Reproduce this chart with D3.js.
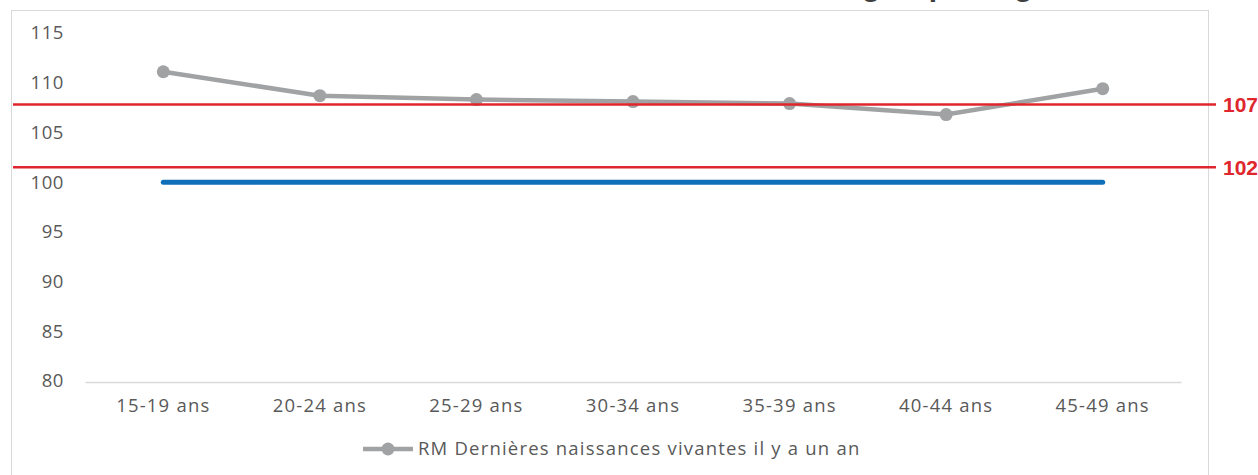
<!DOCTYPE html>
<html>
<head>
<meta charset="utf-8">
<script src="https://cdn.jsdelivr.net/npm/d3@7"></script>
<style>
  body { margin: 0; background: #fff; }
  svg { display: block; }
</style>
</head>
<body>
<svg id="chart"></svg>
<script>
// data
const categories = ["15-19 ans", "20-24 ans", "25-29 ans", "30-34 ans", "35-39 ans", "40-44 ans", "45-49 ans"];
const rmValues = [111.1, 108.7, 108.3, 108.1, 107.9, 106.8, 109.4];
const referenceValue = 100;
const thresholdValues = [107.8, 101.5];
const thresholdLabels = ["107", "102"];
const yTicks = [80, 85, 90, 95, 100, 105, 110, 115];
const seriesName = "RM Dernières naissances vivantes il y a un an";
const titleText = "selon le groupe d'âge";

const width = 1258, height = 475;
const margin = { top: 34, right: 77, bottom: 94, left: 85 };

const svg = d3.select("#chart")
  .attr("width", width)
  .attr("height", height);

// chart frame
svg.append("rect")
  .attr("x", 11.5).attr("y", 10.5)
  .attr("width", 1197).attr("height", 480)
  .attr("fill", "none")
  .attr("stroke", "#d9d9d9");

// title (cut off at top in the original, only descenders show)
svg.append("text")
  .attr("x", 742)
  .attr("y", -4.5)
  .attr("font-family", "Liberation Sans, Arial, sans-serif")
  .attr("font-weight", "bold")
  .attr("font-size", 30)
  .attr("fill", "#404040")
  .text(titleText);

const x = d3.scaleBand()
  .domain(categories)
  .range([margin.left, width - margin.right]);

const y = d3.scaleLinear()
  .domain([80, 115])
  .range([381, 33]);

const cx = d => x(d) + x.bandwidth() / 2;

// x axis
const xAxis = svg.append("g")
  .attr("transform", `translate(0,${y(80) + 1})`)
  .call(d3.axisBottom(x).tickSize(0).tickPadding(17));
xAxis.select(".domain").attr("stroke", "#d9d9d9").attr("stroke-width", 1.5);
xAxis.selectAll("text")
  .attr("font-family", "Open Sans, sans-serif")
  .attr("font-size", 18.5)
  .attr("letter-spacing", 1.2)
  .attr("fill", "#595959");

// y axis (labels only)
const yAxis = svg.append("g")
  .attr("transform", "translate(64,0)")
  .call(d3.axisLeft(y).tickValues(yTicks).tickSize(0).tickPadding(0));
yAxis.select(".domain").remove();
yAxis.selectAll("text")
  .attr("font-family", "Open Sans, sans-serif")
  .attr("font-size", 18.5)
  .attr("letter-spacing", 0.6)
  .attr("fill", "#595959");

// reference line at 100
svg.append("line")
  .attr("x1", cx(categories[0]))
  .attr("x2", cx(categories[categories.length - 1]))
  .attr("y1", y(referenceValue))
  .attr("y2", y(referenceValue))
  .attr("stroke", "#0f6fb8")
  .attr("stroke-width", 5)
  .attr("stroke-linecap", "round");

// series line
const line = d3.line()
  .x((d, i) => cx(categories[i]))
  .y(d => y(d));

svg.append("path")
  .datum(rmValues)
  .attr("d", line)
  .attr("fill", "none")
  .attr("stroke", "#a0a2a3")
  .attr("stroke-width", 4.5);

svg.selectAll(".pt")
  .data(rmValues)
  .enter()
  .append("circle")
  .attr("class", "pt")
  .attr("cx", (d, i) => cx(categories[i]))
  .attr("cy", d => y(d))
  .attr("r", 6.5)
  .attr("fill", "#a0a2a3");

// red threshold lines
svg.selectAll(".thr")
  .data(thresholdValues)
  .enter()
  .append("line")
  .attr("class", "thr")
  .attr("x1", 13)
  .attr("x2", 1216)
  .attr("y1", d => y(d))
  .attr("y2", d => y(d))
  .attr("stroke", "#e0262d")
  .attr("stroke-width", 2.5);

svg.selectAll(".thrLabel")
  .data(thresholdValues)
  .enter()
  .append("text")
  .attr("class", "thrLabel")
  .attr("x", 1223)
  .attr("y", d => y(d))
  .attr("dy", "0.36em")
  .attr("font-family", "Liberation Sans, Arial, sans-serif")
  .attr("font-weight", "bold")
  .attr("font-size", 21)
  .attr("fill", "#e0262d")
  .text((d, i) => thresholdLabels[i]);

// legend
const legend = svg.append("g").attr("transform", "translate(363,449)");
legend.append("line")
  .attr("x1", 0).attr("x2", 50)
  .attr("stroke", "#a0a2a3")
  .attr("stroke-width", 4.5);
legend.append("circle")
  .attr("cx", 25).attr("r", 6.5)
  .attr("fill", "#a0a2a3");
legend.append("text")
  .attr("x", 55)
  .attr("dy", "0.35em")
  .attr("font-family", "Open Sans, sans-serif")
  .attr("font-size", 18.5)
  .attr("letter-spacing", 1.2)
  .attr("fill", "#595959")
  .text(seriesName);
</script>
</body>
</html>
